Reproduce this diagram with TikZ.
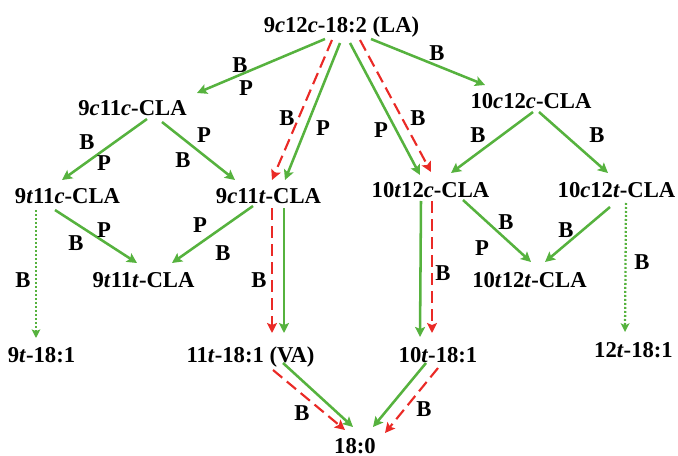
\documentclass[tikz,border=0pt]{standalone}
\usepackage{fontspec}
\setmainfont{Liberation Serif}
\usepackage{xcolor}
\usepackage{tikz}
\usetikzlibrary{arrows.meta, calc}

\definecolor{pathgreen}{RGB}{86,178,62}
\definecolor{pathred}{RGB}{234,42,38}

\begin{document}
\begin{tikzpicture}[
  x=0.75pt, y=-0.75pt,
  acid/.style={inner sep=0pt, anchor=base, font=\fontsize{17}{19}\selectfont\bfseries},
  lbl/.style={inner sep=0pt, font=\fontsize{17}{19}\selectfont\bfseries},
  garr/.style={-{Stealth[length=7.5pt, width=7.5pt, inset=1.5pt]}, line width=1.9pt, pathgreen},
  rarr/.style={-{Stealth[length=7.5pt, width=7.5pt, inset=1.5pt]}, line width=1.6pt, pathred,
               dash pattern=on 9pt off 4.5pt},
  darr/.style={-{Stealth[length=6.5pt, width=6.5pt, inset=1.5pt]}, line width=1.7pt, pathgreen,
               dash pattern=on 1.4pt off 1.6pt}
]
  \useasboundingbox (0,0) rectangle (678,456);

  % acids
  \node[acid] (la) at (341.5,33) {9\textit{c}12\textit{c}-18:2 (LA)};
  \node[acid] (n9c11c) at (132.5,116) {9\textit{c}11\textit{c}-CLA};
  \node[acid] (n10c12c) at (531,109) {10\textit{c}12\textit{c}-CLA};
  \node[acid] (n9t11c) at (67.5,204) {9\textit{t}11\textit{c}-CLA};
  \node[acid] (n9c11t) at (268.5,204) {9\textit{c}11\textit{t}-CLA};
  \node[acid] (n10t12c) at (430.5,197) {10\textit{t}12\textit{c}-CLA};
  \node[acid] (n10c12t) at (616.5,197) {10\textit{c}12\textit{t}-CLA};
  \node[acid] (n9t11t) at (143.5,287) {9\textit{t}11\textit{t}-CLA};
  \node[acid] (n10t12t) at (529.5,287) {10\textit{t}12\textit{t}-CLA};
  \node[acid] (t9) at (41.5,362) {9\textit{t}-18:1};
  \node[acid] (va) at (250.5,362) {11\textit{t}-18:1 (VA)};
  \node[acid] (t10) at (438,362) {10\textit{t}-18:1};
  \node[acid] (t12) at (633.5,357) {12\textit{t}-18:1};
  \node[acid] (sa) at (355,453) {18:0};

  % from LA
  \draw[garr] ($(la.base)+(-16.5,6)$) -- ($(n9c11c.base)+(64.5,-23)$);
  \draw[garr] ($(la.base)+(-1.5,10)$) -- ($(n9c11t.base)+(16.5,-24)$);
  \draw[rarr] ($(la.base)+(-9.5,7)$) -- ($(n9c11t.base)+(3.5,-24)$);
  \draw[garr] ($(la.base)+(8.5,10)$) -- ($(n10t12c.base)+(-10.5,-22)$);
  \draw[rarr] ($(la.base)+(18.5,7)$) -- ($(n10t12c.base)+(0.5,-25)$);
  \draw[garr] ($(la.base)+(29.5,6)$) -- ($(n10c12c.base)+(-46,-24)$);

  % CLA isomers
  \draw[garr] ($(n9c11c.base)+(14.5,3)$) -- ($(n9t11c.base)+(-5.5,-24)$);
  \draw[garr] ($(n9c11c.base)+(29.5,6)$) -- ($(n9c11t.base)+(-33.5,-24)$);
  \draw[garr] ($(n9t11c.base)+(-12.5,6)$) -- ($(n9t11t.base)+(-6.5,-24)$);
  \draw[garr] ($(n9c11t.base)+(-15.5,2)$) -- ($(n9t11t.base)+(28.5,-24)$);
  \draw[garr] ($(n10c12c.base)+(2,3)$) -- ($(n10t12c.base)+(20.5,-24)$);
  \draw[garr] ($(n10c12c.base)+(8,3)$) -- ($(n10c12t.base)+(-8.5,-24)$);
  \draw[garr] ($(n10t12c.base)+(32.5,3)$) -- ($(n10t12t.base)+(1.5,-25)$);
  \draw[garr] ($(n10c12t.base)+(-6.5,10)$) -- ($(n10t12t.base)+(15.5,-25)$);

  % to the monoenes
  \draw[darr] ($(n9t11c.base)+(-31.5,6)$) -- ($(t9.base)+(-5.5,-24)$);
  \draw[garr] ($(n9c11t.base)+(15.5,4)$) -- ($(va.base)+(33.5,-29)$);
  \draw[rarr] ($(n9c11t.base)+(3.5,4)$) -- ($(va.base)+(21.5,-29)$);
  \draw[garr] ($(n10t12c.base)+(-9.5,4)$) -- ($(t10.base)+(-18,-25)$);
  \draw[rarr] ($(n10t12c.base)+(1.5,4)$) -- ($(t10.base)+(-6,-29)$);
  \draw[darr] ($(n10c12t.base)+(9.5,6)$) -- ($(t12.base)+(-8.5,-25)$);

  % to stearic acid
  \draw[garr] ($(va.base)+(32.5,1)$) -- ($(sa.base)+(-2,-26)$);
  \draw[rarr] ($(va.base)+(22.5,8)$) -- ($(sa.base)+(-10,-23)$);
  \draw[garr] ($(t10.base)+(-12,1)$) -- ($(sa.base)+(18,-26)$);
  \draw[rarr] ($(t10.base)+(0,6)$) -- ($(sa.base)+(30,-20)$);

  % B / P labels
  \node[lbl] (b1) at (240,65) {B};
  \node[lbl] (p1) at (246,88) {P};
  \node[lbl] (b2) at (287,118) {B};
  \node[lbl] (p2) at (323,128) {P};
  \node[lbl] (p3) at (381,130) {P};
  \node[lbl] (b3) at (418,118) {B};
  \node[lbl] (b4) at (437,53) {B};
  \node[lbl] (b5) at (87,142) {B};
  \node[lbl] (p5) at (104,163) {P};
  \node[lbl] (p6) at (204,135) {P};
  \node[lbl] (b6) at (183,160) {B};
  \node[lbl] (p7) at (104,230) {P};
  \node[lbl] (b7) at (76,243) {B};
  \node[lbl] (p8) at (200,225) {P};
  \node[lbl] (b8) at (223,253) {B};
  \node[lbl] (b9) at (23,280) {B};
  \node[lbl] (b10) at (259,280) {B};
  \node[lbl] (b11) at (478,135) {B};
  \node[lbl] (b12) at (597,135) {B};
  \node[lbl] (b13) at (506,222) {B};
  \node[lbl] (p13) at (482,248) {P};
  \node[lbl] (b14) at (566,230) {B};
  \node[lbl] (b15) at (642,262) {B};
  \node[lbl] (b16) at (443,273) {B};
  \node[lbl] (b17) at (302,413) {B};
  \node[lbl] (b18) at (424,409) {B};
\end{tikzpicture}
\end{document}
